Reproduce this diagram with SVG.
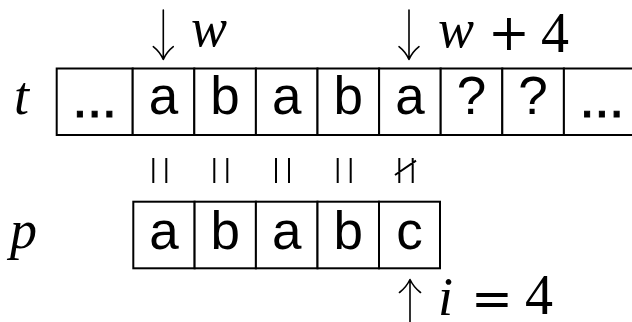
<svg xmlns="http://www.w3.org/2000/svg" width="632" height="322" viewBox="0 0 632 322">
<style>
.cell{fill:#fff;stroke:#000;stroke-width:2}
.ch{font-family:"Liberation Sans",Arial,sans-serif;font-size:53px;text-anchor:middle;fill:#000}
.dots{stroke:#000;stroke-width:1}
.mi{font-family:"Liberation Serif","Times New Roman",serif;font-style:italic;font-size:54px;fill:#000}
.mr{font-family:"Liberation Serif","Times New Roman",serif;font-size:56px;fill:#000}
.op{font-family:"DejaVu Serif",serif;font-size:50px;fill:#000}
.ln{stroke:#000;stroke-width:1.6;fill:none;stroke-linecap:round;stroke-linejoin:round}
.eq{stroke:#000;stroke-width:2;fill:none}
</style>
<rect width="632" height="322" fill="#fff"/>
<g id="label-t"><text class="mi" x="14" y="114">t</text></g>
<g id="label-p"><text class="mi" x="10" y="248">p</text></g>
<g id="t-row">
  <g id="t0"><rect class="cell" x="56.7" y="68.5" width="76" height="66.5"/><text class="ch dots" x="94.7" y="116.5">...</text></g>
  <g id="t1"><rect class="cell" x="132.7" y="68.5" width="61.6" height="66.5"/><text class="ch" x="163.5" y="114">a</text></g>
  <g id="t2"><rect class="cell" x="194.3" y="68.5" width="61.6" height="66.5"/><text class="ch" x="225.1" y="114">b</text></g>
  <g id="t3"><rect class="cell" x="255.9" y="68.5" width="61.6" height="66.5"/><text class="ch" x="286.7" y="114">a</text></g>
  <g id="t4"><rect class="cell" x="317.5" y="68.5" width="61.6" height="66.5"/><text class="ch" x="348.3" y="114">b</text></g>
  <g id="t5"><rect class="cell" x="379.1" y="68.5" width="61.6" height="66.5"/><text class="ch" x="409.9" y="114">a</text></g>
  <g id="t6"><rect class="cell" x="440.7" y="68.5" width="61.6" height="66.5"/><text class="ch" x="471.5" y="114">?</text></g>
  <g id="t7"><rect class="cell" x="502.3" y="68.5" width="61.6" height="66.5"/><text class="ch" x="533.1" y="114">?</text></g>
  <g id="t8"><rect class="cell" x="563.9" y="68.5" width="76" height="66.5"/><text class="ch dots" x="601.9" y="116.5">...</text></g>
</g>
<g id="p-row">
  <g id="p0"><rect class="cell" x="133.3" y="201.7" width="61.3" height="66.6"/><text class="ch" x="164" y="249">a</text></g>
  <g id="p1"><rect class="cell" x="194.6" y="201.7" width="61.3" height="66.6"/><text class="ch" x="225.3" y="249">b</text></g>
  <g id="p2"><rect class="cell" x="255.9" y="201.7" width="61.6" height="66.6"/><text class="ch" x="286.7" y="249">a</text></g>
  <g id="p3"><rect class="cell" x="317.5" y="201.7" width="61.5" height="66.6"/><text class="ch" x="348.3" y="249">b</text></g>
  <g id="p4"><rect class="cell" x="379" y="201.7" width="61" height="66.6"/><text class="ch" x="409.5" y="249">c</text></g>
</g>
<g id="label-w"><text class="mi" x="191" y="46">w</text></g>
<g id="label-w4"><text class="mi" x="438" y="47">w</text><text class="op" x="488" y="50">+</text><text class="mr" x="541" y="52">4</text></g>
<g id="label-i4"><text class="mi" x="438" y="315">i</text><text class="op" x="471" y="316">=</text><text class="mr" x="525" y="314">4</text></g>
<g id="connectors">
  <path class="ln" d="M163.3 10V59.5M153.3 46.7Q160 52 163.3 59.5Q166.6 52 173.3 46.7"/>
  <path class="ln" d="M409 10V59.5M399 46.7Q405.7 52 409 59.5Q412.3 52 419 46.7"/>
  <path class="ln" d="M410 322V279.5M399.5 292.5Q406.5 287 410 279.5Q413.5 287 420.5 292.5"/>
  <path class="eq" d="M153.3 158V183M166.3 158V183M214.3 158V183M227.3 158V183M276 158V183M289 158V183M337.7 158V183M350.7 158V183M399.3 158V183M412.7 158V183M395 175L416 160.7"/>
</g>
</svg>
